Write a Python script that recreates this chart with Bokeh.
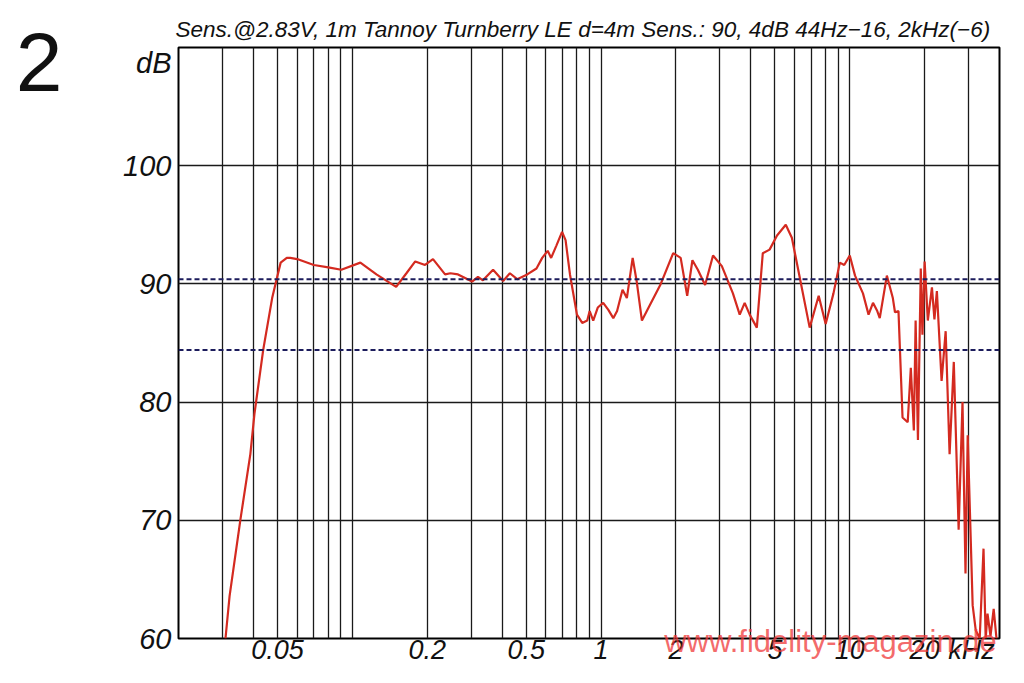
from bokeh.plotting import figure
from bokeh.models import FixedTicker, Span, ColumnDataSource, LinearAxis, LogAxis
from bokeh.embed import file_html
from bokeh.resources import INLINE

# ---- data ----
freq_khz = [0.0309, 0.0321, 0.0355, 0.0389, 0.0404, 0.0438, 0.0476, 0.0495, 0.0515, 0.0545,
            0.0563, 0.060, 0.070, 0.080, 0.0903, 0.1077, 0.125, 0.150, 0.165, 0.179,
            0.196, 0.211, 0.236, 0.248, 0.266, 0.303, 0.32, 0.335, 0.368, 0.404,
            0.43, 0.46, 0.505, 0.55, 0.58, 0.61, 0.63, 0.66, 0.697, 0.72,
            0.75, 0.80, 0.84, 0.88, 0.90, 0.93, 0.97, 1.02, 1.07, 1.12,
            1.16, 1.22, 1.27, 1.34, 1.39, 1.46, 1.57, 1.73, 1.95, 2.09,
            2.22, 2.33, 2.45, 2.62, 2.82, 3.06, 3.39, 3.61, 3.78, 3.96,
            4.23, 4.47, 4.76, 5.1, 5.53, 5.85, 6.3, 6.9, 7.5, 8.0,
            8.6, 9.12, 9.5, 10.0, 10.5, 11.3, 11.9, 12.4, 12.9, 13.2,
            14.1, 14.9, 15.2, 15.7, 16.3, 17.1, 17.6, 18.1, 18.4, 18.8,
            19.3, 19.6, 20.0, 20.6, 21.4, 21.9, 22.4, 23.4, 24.3, 25.2,
            26.2, 27.4, 28.4, 29.2, 29.8, 31.2, 32.1, 33.3, 34.5, 35.2,
            35.8, 36.8, 37.9, 38.9]
level_db = [60.0, 63.6, 70.1, 75.6, 79.0, 84.4, 88.8, 90.3, 91.8, 92.2,
            92.2, 92.1, 91.6, 91.4, 91.2, 91.8, 90.8, 89.75, 90.9, 91.9,
            91.6, 92.1, 90.8, 90.9, 90.8, 90.2, 90.6, 90.3, 91.2, 90.25,
            90.9, 90.4, 90.8, 91.3, 92.2, 92.8, 92.2, 93.2, 94.4, 93.7,
            90.8, 87.4, 86.7, 86.9, 87.7, 86.9, 88.0, 88.4, 87.8, 87.1,
            87.7, 89.5, 88.8, 92.2, 90.25, 86.9, 88.2, 89.9, 92.6, 92.2,
            89.0, 92.0, 91.2, 89.9, 92.4, 91.5, 89.2, 87.4, 88.4, 87.4,
            86.3, 92.6, 92.9, 94.1, 95.0, 93.9, 90.5, 86.3, 89.0, 86.6,
            89.2, 91.8, 91.6, 92.4, 90.7, 89.2, 87.4, 88.4, 87.7, 87.1,
            90.7, 88.8, 87.6, 87.7, 78.7, 78.3, 82.9, 77.6, 86.9, 76.8,
            91.3, 85.7, 91.9, 86.9, 89.7, 87.0, 89.4, 81.8, 86.0, 75.6,
            83.4, 69.2, 80.0, 65.5, 77.2, 62.8, 60.7, 60.0, 67.6, 60.0,
            62.1, 60.2, 62.5, 60.0]

# x tick labels; the unit "kHz" sits as its own label just right of "20"
x_tick_values = [0.05, 0.2, 0.5, 1, 2, 5, 10, 20, 30.9]
x_tick_labels = ["0.05", "0.2", "0.5", "1", "2", "5", "10", "20", "kHz"]
x_grid_values = [0.03, 0.04, 0.05, 0.06, 0.07, 0.08, 0.09, 0.1,
                 0.2, 0.3, 0.4, 0.5, 0.6, 0.7, 0.8, 0.9, 1,
                 2, 3, 4, 5, 6, 7, 8, 9, 10, 20, 30]
# y tick labels; the unit "dB" sits at the top of the scale
y_tick_values = [60, 70, 80, 90, 100, 108.7]
y_tick_labels = ["60", "70", "80", "90", "100", "dB"]
y_grid_values = [70, 80, 90, 100]
sensitivity_db = 90.4
minus6_db = 84.4
figure_number = "2"
figure_number_at_db = 108.8
watermark = "www.fidelity-magazin.de"
watermark_at_khz = 10.4

title_text = "Sens.@2.83V, 1m Tannoy Turnberry LE d=4m Sens.: 90, 4dB 44Hz\u221216, 2kHz(\u22126)"

p = figure(width=1008, height=667, x_axis_type="log", x_range=(0.02, 40), y_range=(60, 110),
           output_backend="svg", toolbar_location=None,
           min_border_left=178, min_border_right=9, min_border_top=47, min_border_bottom=26,
           background_fill_color="white", border_fill_color="white")

p.title.text = title_text
p.title.text_font = "Liberation Sans"
p.title.text_font_style = "italic"
p.title.text_font_size = "22.5px"
p.title.text_color = "#111111"
p.title.align = "left"
p.title.offset = -3
p.title.standoff = 11

p.outline_line_color = "black"
p.outline_line_width = 2

# grid
p.xgrid.ticker = FixedTicker(ticks=x_grid_values)
p.xgrid.grid_line_color = "#1a1a1a"
p.xgrid.grid_line_width = 1.3
p.ygrid.ticker = FixedTicker(ticks=y_grid_values)
p.ygrid.grid_line_color = "#1a1a1a"
p.ygrid.grid_line_width = 1.3

# axes
xa = p.xaxis[0]
xa.ticker = FixedTicker(ticks=x_tick_values)
xa.major_label_overrides = {v: s for v, s in zip(x_tick_values, x_tick_labels)}
ya = p.yaxis[0]
ya.ticker = FixedTicker(ticks=y_tick_values)
ya.major_label_overrides = {v: s for v, s in zip(y_tick_values, y_tick_labels)}

num_axis = LinearAxis(ticker=FixedTicker(ticks=[figure_number_at_db]),
                      major_label_overrides={figure_number_at_db: figure_number})
p.add_layout(num_axis, "left")

wm_axis = LogAxis(ticker=FixedTicker(ticks=[watermark_at_khz]),
                  major_label_overrides={watermark_at_khz: watermark})
p.add_layout(wm_axis, "below")

for ax in (xa, ya, num_axis, wm_axis):
    ax.axis_line_color = None
    ax.major_tick_line_color = None
    ax.minor_tick_line_color = None
    ax.major_tick_out = 0
    ax.major_tick_in = 0
    ax.major_label_text_font = "Liberation Sans"
    ax.major_label_text_font_style = "italic"
    ax.major_label_text_color = "#111111"
xa.major_label_text_font_size = "27px"
ya.major_label_text_font_size = "29px"
xa.major_label_standoff = -4
ya.major_label_standoff = 7
num_axis.major_label_text_font_style = "normal"
num_axis.major_label_text_font_size = "84px"
num_axis.major_label_standoff = 58
wm_axis.major_label_text_font_style = "normal"
wm_axis.major_label_text_font_size = "31px"
wm_axis.major_label_text_color = "#f03a3a"
wm_axis.major_label_text_alpha = 0.75
wm_axis.major_label_standoff = -44

# reference lines
for lvl in (sensitivity_db, minus6_db):
    p.add_layout(Span(location=lvl, dimension="width", line_color="#1c1c5c",
                      line_width=2, line_dash="5 3"))

src = ColumnDataSource(data=dict(f=freq_khz, db=level_db))
p.line("f", "db", source=src, line_color="#d42a20", line_width=2.2)

open("out.html", "w").write(file_html(p, INLINE))
